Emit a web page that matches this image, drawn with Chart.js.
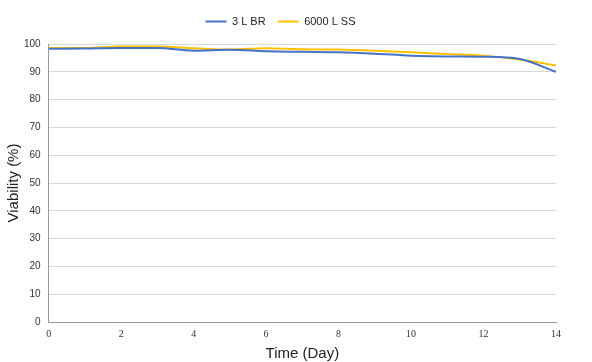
<!DOCTYPE html>
<html><head><meta charset="utf-8">
<script src="https://cdn.jsdelivr.net/npm/chart.js@4/dist/chart.umd.min.js"></script>
<style>html,body{margin:0;padding:0;background:#fff}#wrap{width:592px;height:362px}</style>
</head><body><div id="wrap"><canvas id="c" width="592" height="362"></canvas></div>
<script>
const days = [0,1,2,3,4,5,6,7,8,9,10,11,12,13,14];
const br3L = [98.3,98.4,98.6,98.6,97.6,97.9,97.4,97.2,97.0,96.5,95.8,95.5,95.4,94.6,90.0];
const ss6000L = [98.6,98.6,99.1,99.1,98.5,98.0,98.5,98.1,98.0,97.6,97.0,96.4,95.8,94.4,92.3];
const seriesNames = ['3 L BR','6000 L SS'];
const xTicks = [0,2,4,6,8,10,12,14];
const yTicks = [0,10,20,30,40,50,60,70,80,90,100];

const legendSpace = {
  id:'legendSpace',
  beforeInit(chart){
    const orig = chart.legend.fit;
    chart.legend.fit = function(){ orig.bind(chart.legend)(); this.height += 7; };
  }
};

new Chart(document.getElementById('c'), {
  type: 'line',
  plugins:[legendSpace],
  data: {
    datasets: [
      {label: seriesNames[0], data: days.map((d,i)=>({x:d,y:br3L[i]})), borderColor:'#4472C4', backgroundColor:'#4472C4', borderWidth:2, pointRadius:0, tension:0.4, cubicInterpolationMode:'monotone'},
      {label: seriesNames[1], data: days.map((d,i)=>({x:d,y:ss6000L[i]})), borderColor:'#FFC000', backgroundColor:'#FFC000', borderWidth:2, pointRadius:0, tension:0.4, cubicInterpolationMode:'monotone'}
    ]
  },
  options: {
    responsive:false, animation:false,
    layout:{padding:{left:5,right:36,top:4,bottom:0}},
    plugins:{
      legend:{position:'top', labels:{boxWidth:21, boxHeight:2, font:{family:'Liberation Sans', size:11}, color:'#222', padding:12,
        generateLabels:(chart)=>Chart.defaults.plugins.legend.labels.generateLabels(chart).map(l=>({...l, lineWidth:0}))}},
      tooltip:{enabled:false}
    },
    scales:{
      x:{type:'linear', min:0, max:14,
        afterBuildTicks:(a)=>{a.ticks = xTicks.map(v=>({value:v}));},
        grid:{display:false, drawTicks:false}, border:{color:'#999', width:1},
        ticks:{font:{family:'Liberation Serif', size:10}, color:'#333', padding:6, maxRotation:0},
        title:{display:true, text:'Time (Day)', font:{family:'Liberation Sans', size:15}, color:'#222', padding:{top:-1,bottom:-1}}
      },
      y:{min:0, max:100,
        afterBuildTicks:(a)=>{a.ticks = yTicks.map(v=>({value:v}));},
        grid:{color:'#d9d9d9', drawTicks:false}, border:{color:'#999', width:1},
        ticks:{font:{family:'Liberation Sans', size:10}, color:'#333', padding:8},
        title:{display:true, text:'Viability (%)', font:{family:'Liberation Sans', size:15}, color:'#222', padding:{top:0,bottom:-7}}
      }
    }
  }
});
</script></body></html>
